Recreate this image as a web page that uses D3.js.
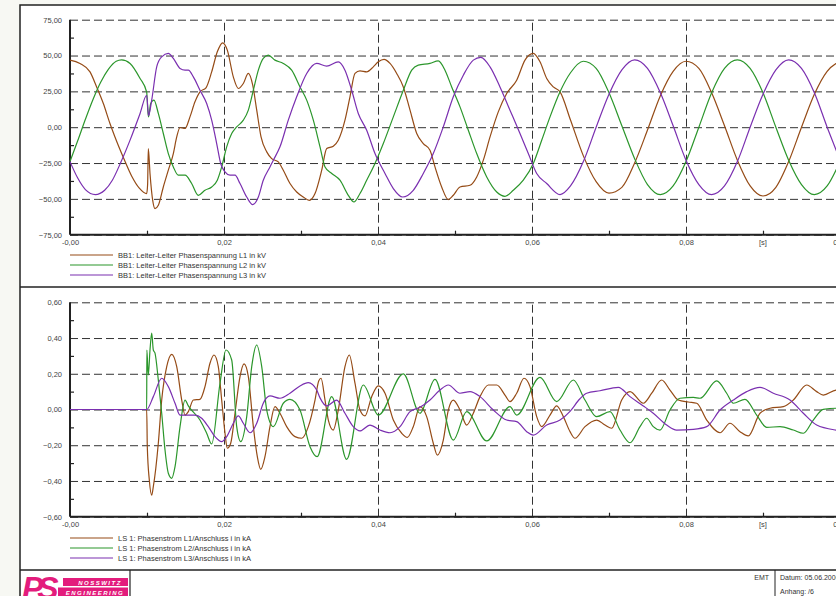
<!DOCTYPE html>
<html>
<head>
<meta charset="utf-8">
<style>
  body { margin: 0; background: #f7f8f3; }
  svg { display: block; font-family: "Liberation Sans", Arial, sans-serif; }
  .tick text { fill: #444; font-size: 7.5px; }
</style>
</head>
<body>
<svg id="chart" width="836" height="596"></svg>
<script src="https://d3js.org/d3.v7.min.js"></script>
<script>
// time in ms, value in kV
const voltL1 = [[0,46.8],[1.3,44.5],[2.6,38.6],[3.46,28.1],[4.33,16.5],[5.19,2.6],[5.84,-6.8],[7,-22],[8,-34],[9,-42.5],[9.96,-46.3],
  [10.08,-40],[10.17,-15],[10.4,-33],[10.74,-51],[11.04,-56.8],[11.47,-54.5],[12.12,-41.7],[12.77,-30],[13.42,-18.4],[13.86,-6.8],[14.29,-0.2],[14.94,-0.9],
  [15.58,7.2],[16.23,17.7],[16.88,24.7],[17.66,27.5],[18.40,38.6],[19.13,52.6],[19.83,58.9],[20.43,53.8],[21.21,35.1],[21.86,27],[22.51,30.5],[23.16,37.5],
  [23.73,29.3],[24.25,11.9],[24.81,-6.8],[25.55,-17.2],[26.19,-21.9],[27.05,-24.2],[27.70,-30],[28.57,-39.3],[29.44,-45.2],[30.30,-48.7],[31.08,-51],
  [31.82,-46.3],[32.69,-30],[33.34,-14.9],[34.19,-13.3],[34.84,-9.1],[35.71,4.9],[36.36,21.2],[37.01,37.5],[37.66,39.3],[38.53,38.6],[39.39,42.1],
  [40.04,45.6],[40.78,47.3],[41.56,44.5],[42.43,37.5],[43.29,28.1],[44.16,11.9],[45.03,-4.4],[45.88,-11.4],[46.75,-16.1],[47.40,-27.7],[48.27,-41.7],
  [49.13,-50.5],[49.78,-47.5],[50.65,-41.7],[51.95,-40.5],[52.82,-34.7],[53.68,-23],[54.55,-6.8],[55.62,10.7],[56.71,23.5],[58.01,32.8],[59.09,46.8],
  [60.17,51.5],[61.04,45.6],[61.91,34],[62.77,28.1],[63.64,24.7],[65,5],[66.67,-20],[68.33,-38],[70,-46],[71.67,-42],[73.33,-25],[75,-2],[76.67,22],
  [78.33,39],[80,46],[81.67,41],[83.33,24],[85,1],[86.67,-23],[88.33,-41],[90,-48],[91.67,-42],[93.33,-24],[95,0],[96.67,23],[98.33,39],[100,46]];
const voltL2 = [[0,-24],[1,-9.5],[2,5.5],[3,19.5],[4,31.5],[5,40.5],[6,46],[6.7,47],[7.8,44.5],[9.1,34],[9.96,24.5],
  [10.1,12],[10.2,7.2],[10.48,16.5],[10.9,18.9],[11.47,9.6],[12.12,-4.4],[12.77,-18.4],[13.42,-27.7],[14.06,-33.5],[14.94,-33.5],[15.80,-39.3],
  [16.66,-47.5],[17.53,-44],[18.40,-41.7],[19.13,-37],[19.70,-27.7],[20.35,-13.7],[21.00,-4.4],[21.65,0.2],[22.51,4.9],[23.16,11.9],[23.81,25.8],
  [24.46,39.8],[25.10,48],[25.75,50.3],[26.62,46.8],[27.70,44.5],[28.79,39.8],[29.87,28.1],[30.74,18.9],[31.60,4.9],[32.47,-13.7],[33.12,-27.7],
  [33.99,-32.3],[35.06,-37],[36.14,-47.5],[36.88,-52.2],[37.66,-46.3],[38.53,-37],[39.61,-25.3],[40.69,-11.4],[41.99,7.2],[43.29,25.8],[44.38,39.8],
  [45.23,43.3],[46.75,44.5],[47.83,46.3],[48.70,39.8],[49.57,28.1],[50.65,14.2],[51.73,-2.1],[52.82,-18.4],[54.12,-34.7],[55.42,-45.2],[56.49,-48.2],
  [57.57,-44],[58.87,-37],[60.17,-25.3],[61.26,-9.1],[62.34,7.2],[63.64,24.7],[65,38],[66.67,46],[68.33,41],[70,24],[71.67,1],[73.33,-22],[75,-40],
  [76.67,-47],[78.33,-41],[80,-24],[81.67,0],[83.33,24],[85,41],[86.67,47],[88.33,41],[90,24],[91.67,0],[93.33,-23],[95,-40],[96.67,-47],[98.33,-41],[100,-24]];
const voltL3 = [[0,-24],[1,-35.5],[2,-43.5],[3.3,-47],[4.5,-44],[5.5,-37],[6.6,-24.5],[7.8,-9],[9.1,9.6],[9.96,22.3],
  [10.1,14],[10.2,8],[10.61,18.9],[11.26,42.1],[11.91,49.1],[12.77,51.5],[13.42,48],[14.29,41],[14.94,39.8],[15.37,39.8],[16.02,35.1],[16.88,25.8],
  [17.75,16.5],[18.40,4.9],[19.05,-11.4],[19.57,-25.3],[20.13,-31.2],[20.78,-33.5],[21.43,-33.5],[22.08,-39.3],[22.95,-48.7],[23.73,-54],[24.46,-48.7],
  [25.10,-37],[25.97,-27.7],[26.41,-23],[27.27,-13.7],[28.35,4.9],[29.44,21.2],[30.74,37.5],[32.04,44.5],[33.34,42.6],[34.84,45.6],[35.71,39.8],
  [36.58,25.8],[37.44,9.6],[38.53,-2.1],[39.61,-18.4],[40.91,-32.3],[41.99,-42.8],[43.21,-48.7],[44.58,-44],[45.88,-32.3],[47.18,-18.4],[48.48,0.2],
  [49.78,21.2],[51.08,36.3],[52.38,46.8],[53.34,48.7],[54.55,42.1],[55.84,28.1],[57.14,11.9],[58.44,-4.4],[59.52,-18.4],[60.61,-32.3],[61.91,-39.3],
  [63.64,-47],[65,-41],[66.67,-24],[68.33,0],[70,23],[71.67,40],[73.33,47],[75,41],[76.67,24],[78.33,1],[80,-23],[81.67,-40],[83.33,-47],[85,-41],
  [86.67,-24],[88.33,0],[90,23],[91.67,40],[93.33,47],[95,41],[96.67,24],[98.33,0],[100,-23]];

// time in ms, value in kA
const currL1 = [[0,0],[9.96,0],[10.04,-0.21],[10.30,-0.395],[10.61,-0.479],[10.82,-0.432],[11.47,-0.189],[11.91,0.053],[12.56,0.24],[13.21,0.309],
  [13.86,0.24],[14.51,0.053],[14.94,-0.031],[15.37,-0.012],[16.02,0.053],[16.88,0.057],[17.53,0.128],[18.18,0.259],[18.70,0.305],[19.26,0.24],
  [19.70,0.053],[20.13,-0.133],[20.43,-0.217],[20.87,-0.189],[21.43,-0.021],[22.08,0.184],[22.60,0.255],[23.16,0.184],[23.81,-0.096],[24.33,-0.264],
  [24.77,-0.335],[25.32,-0.264],[25.97,-0.096],[26.62,0.016],[27.27,-0.021],[28.14,-0.096],[29.22,-0.152],[30.09,-0.161],[30.95,-0.096],[31.82,0.053],
  [32.3,0.16],[32.6,0.175],[33.12,0.053],[33.55,-0.059],[34.19,-0.115],[34.84,-0.003],[35.71,0.24],[36.27,0.305],[37.01,0.147],[37.66,-0.003],
  [38.31,-0.036],[39.18,0.072],[40.04,0.132],[40.91,0.091],[41.99,-0.059],[43.08,-0.133],[43.81,-0.156],[44.58,-0.096],[45.45,0.016],[46.32,-0.04],
  [47.18,-0.189],[47.70,-0.255],[48.48,-0.171],[49.13,-0.003],[49.78,0.053],[50.65,-0.003],[51.52,-0.087],[52.38,-0.021],[53.25,0.072],[54.33,0.137],
  [55.42,0.137],[56.49,0.081],[57.14,0.044],[58.01,0.091],[58.96,0.175],[59.74,0.128],[60.61,-0.04],[61.26,-0.096],[62.34,-0.031],[63.21,0.02],
  [64.07,-0.04],[64.94,-0.124],[65.58,-0.161],[66.88,-0.096],[68.40,-0.059],[69.48,-0.087],[70.35,-0.105],[71.65,0.053],[72.73,0.1],[74.46,0.035],
  [75.55,0.091],[76.84,0.165],[77.92,0.109],[79.0,0.053],[80.30,0.042],[81.39,0.035],[82.69,-0.059],[84.42,-0.13],[85.71,-0.077],[87.01,-0.124],
  [88.09,-0.148],[89.61,-0.021],[90.91,0.007],[92.64,0.016],[93.94,0.053],[95.68,0.137],[96.97,0.1],[97.83,0.081],[99.48,0.109],[100,0.11]];
const currL2 = [[0,0],[9.96,0],[9.98,0.333],[10.17,0.193],[10.39,0.333],[10.61,0.427],[10.82,0.333],[11.04,0.315],[11.47,0.165],[11.91,-0.021],
  [12.34,-0.227],[12.77,-0.357],[13.21,-0.385],[13.64,-0.32],[14.29,-0.096],[14.94,0.053],[15.37,0.02],[16.88,-0.059],[17.75,-0.133],[18.40,-0.193],
  [19.48,0.147],[20.26,0.333],[21.0,0.277],[21.65,-0.096],[22.17,-0.18],[22.95,-0.04],[23.60,0.24],[24.25,0.361],[24.90,0.24],[25.55,-0.003],
  [26.41,-0.096],[27.70,0.035],[28.57,0.057],[29.87,-0.003],[31.17,-0.208],[32.1,-0.264],[33.99,0.072],[35.93,-0.279],[38.09,0.137],[40.04,-0.031],
  [43.29,0.199],[45.45,-0.021],[47.40,0.169],[49.78,-0.171],[51.52,-0.012],[54.12,-0.176],[57.14,0.016],[58.01,-0.031],[61.04,0.18],[63.21,0.044],
  [65.37,0.165],[66.88,0.053],[68.40,-0.04],[70.13,-0.012],[71.43,-0.115],[72.73,-0.186],[74.03,-0.096],[74.89,-0.049],[75.75,-0.096],[76.62,-0.115],
  [77.92,-0.003],[79.22,0.063],[80.95,0.068],[81.82,0.063],[83.99,0.16],[85.28,0.091],[86.15,0.035],[87.66,0.057],[89.18,-0.031],[90.48,-0.1],
  [92.21,-0.096],[93.94,-0.115],[95.24,-0.133],[96.53,-0.059],[97.83,0.001],[99.48,0.007],[100,0.007]];
const currL3 = [[0,0],[9.96,0],[10.82,0.072],[11.91,0.175],[12.77,0.128],[13.64,0.035],[14.29,-0.031],[15.15,-0.031],[16.23,-0.031],[17.10,-0.049],
  [17.96,-0.096],[18.83,-0.152],[19.70,-0.18],[20.35,-0.152],[21.21,-0.077],[21.86,-0.036],[22.51,-0.077],[23.38,-0.13],[24.25,-0.077],[25.10,0.035],
  [25.97,0.076],[27.27,0.063],[28.57,0.091],[29.87,0.132],[30.95,0.15],[32.04,0.109],[32.47,0.065],[33.34,0.02],[34.63,0.053],[35.71,-0.021],
  [36.79,-0.096],[37.66,-0.12],[38.96,-0.087],[40.26,-0.115],[41.56,-0.13],[42.86,-0.096],[44.16,-0.012],[45.45,0.012],[46.75,0.053],[48.05,0.109],
  [49.13,0.137],[50.65,0.091],[51.95,0.1],[53.25,0.072],[54.98,-0.003],[56.71,-0.059],[58.01,-0.068],[59.31,-0.124],[60.17,-0.143],[61.91,-0.087],
  [63.64,-0.059],[64.94,-0.01],[66.23,0.06],[67.10,0.091],[68.83,0.105],[71.21,0.124],[72.73,0.072],[74.46,0.02],[75.75,-0.021],[77.49,-0.087],
  [78.79,-0.115],[80.95,-0.111],[82.69,-0.096],[84.42,-0.003],[86.15,0.053],[87.88,0.1],[89.61,0.124],[91.34,0.091],[93.51,0.053],[95.24,-0.021],
  [96.97,-0.087],[99.48,-0.115],[100,-0.118]];

const xTicks = [0, 0.02, 0.04, 0.06, 0.08, 0.10];
const xTickLabels = ["-0,00", "0,02", "0,04", "0,06", "0,08", "0,10"];
const xMinorTicks = [0.01, 0.03, 0.05, 0.07, 0.09];
const voltTicks = [-75, -50, -25, 0, 25, 50, 75];
const voltMinorTicks = [-62.5, -37.5, -12.5, 12.5, 37.5, 62.5];
const currTicks = [-0.6, -0.4, -0.2, 0, 0.2, 0.4, 0.6];
const currMinorTicks = [-0.5, -0.3, -0.1, 0.1, 0.3, 0.5];
const voltLabels = ["BB1: Leiter-Leiter Phasenspannung L1 in kV", "BB1: Leiter-Leiter Phasenspannung L2 in kV", "BB1: Leiter-Leiter Phasenspannung L3 in kV"];
const currLabels = ["LS 1: Phasenstrom L1/Anschluss i in kA", "LS 1: Phasenstrom L2/Anschluss i in kA", "LS 1: Phasenstrom L3/Anschluss i in kA"];
const colors = ["#954b16", "#2b962b", "#7a2fb0"];

const svg = d3.select("#chart");
const comma = (d) => d3.format(".2f")(d).replace(".", ",");

// frame
svg.append("rect").attr("x", 20).attr("y", 5).attr("width", 830).attr("height", 600)
  .attr("fill", "#fff").attr("stroke", "#222").attr("stroke-width", 1.5);
svg.append("line").attr("x1", 20).attr("x2", 836).attr("y1", 287).attr("y2", 287).attr("stroke", "#222").attr("stroke-width", 1.5);
svg.append("line").attr("x1", 20).attr("x2", 836).attr("y1", 570).attr("y2", 570).attr("stroke", "#222").attr("stroke-width", 1.5);

const x = d3.scaleLinear().domain([0, 0.1]).range([70, 840]);

function drawPanel(y, ticks, minorTicks, series, labels, legendTop) {
  const [bottom, top] = y.range();
  const g = svg.append("g");

  g.append("g").attr("transform", "translate(70,0)")
    .call(d3.axisLeft(y).tickValues(ticks).tickFormat(comma).tickSize(-770).tickPadding(8))
    .call((s) => s.select(".domain").remove())
    .call((s) => s.selectAll(".tick line").attr("stroke", "#333").attr("stroke-dasharray", "8,4"));
  g.append("g").attr("transform", "translate(70,0)")
    .call(d3.axisLeft(y).tickValues(minorTicks).tickFormat("").tickSize(-4))
    .call((s) => s.select(".domain").remove())
    .call((s) => s.selectAll(".tick line").attr("stroke", "#222").attr("stroke-width", 1.2));

  g.append("g").attr("transform", `translate(0,${bottom})`)
    .call(d3.axisBottom(x).tickValues(xTicks).tickFormat((d, i) => xTickLabels[i]).tickSize(-(bottom - top)).tickPadding(5))
    .call((s) => s.select(".domain").remove())
    .call((s) => s.selectAll(".tick line").attr("stroke", "#333").attr("stroke-dasharray", "8,4"));
  g.append("g").attr("transform", `translate(0,${bottom})`)
    .call(d3.axisBottom(x).tickValues(xMinorTicks).tickFormat("").tickSize(-4))
    .call((s) => s.select(".domain").remove())
    .call((s) => s.selectAll(".tick line").attr("stroke", "#222").attr("stroke-width", 1.2));
  g.append("text").attr("x", x(0.09)).attr("y", bottom + 10.5).attr("text-anchor", "middle")
    .attr("fill", "#444").attr("font-size", 7.5).text("[s]");

  g.append("line").attr("x1", 70).attr("x2", 70).attr("y1", top).attr("y2", bottom).attr("stroke", "#222").attr("stroke-width", 2);
  g.append("line").attr("x1", 70).attr("x2", 840).attr("y1", bottom).attr("y2", bottom).attr("stroke", "#222").attr("stroke-width", 2);

  const line = d3.line().x((d) => x(d[0] / 1000)).y((d) => y(d[1])).curve(d3.curveMonotoneX);
  series.forEach((s, i) => {
    g.append("path").datum(s).attr("d", line).attr("fill", "none")
      .attr("stroke", colors[i]).attr("stroke-width", 1.2);
  });

  labels.forEach((lab, i) => {
    const ly = legendTop + i * 10;
    g.append("line").attr("x1", 70).attr("x2", 113).attr("y1", ly).attr("y2", ly)
      .attr("stroke", colors[i]).attr("stroke-width", 1.2);
    g.append("text").attr("x", 118).attr("y", ly + 2.6).attr("fill", "#333")
      .attr("font-size", 7.5).text(lab);
  });
}

drawPanel(d3.scaleLinear().domain([-75, 75]).range([234.7, 19.7]), voltTicks, voltMinorTicks,
  [voltL1, voltL2, voltL3], voltLabels, 255);
drawPanel(d3.scaleLinear().domain([-0.6, 0.6]).range([516.7, 302.3]), currTicks, currMinorTicks,
  [currL1, currL2, currL3], currLabels, 538);

// footer
svg.append("line").attr("x1", 130).attr("x2", 130).attr("y1", 570).attr("y2", 596).attr("stroke", "#222").attr("stroke-width", 1.2);
svg.append("line").attr("x1", 775).attr("x2", 775).attr("y1", 570).attr("y2", 596).attr("stroke", "#222").attr("stroke-width", 1);
svg.append("text").attr("x", 769).attr("y", 580).attr("text-anchor", "end").attr("font-size", 7).attr("fill", "#333").text("EMT");
svg.append("text").attr("x", 780).attr("y", 580).attr("font-size", 7).attr("fill", "#333").text("Datum: 05.06.2006");
svg.append("text").attr("x", 780).attr("y", 594).attr("font-size", 7).attr("fill", "#333").text("Anhang:  /6");

const pink = "#e31c7c";
const logo = svg.append("g");
logo.append("text").attr("x", 22).attr("y", 599).attr("font-size", 32).attr("font-weight", "bold")
  .attr("font-style", "italic").attr("fill", pink).attr("letter-spacing", -6).text("PS");
logo.append("rect").attr("x", 63).attr("y", 578).attr("width", 65).attr("height", 8).attr("fill", pink);
logo.append("rect").attr("x", 58).attr("y", 587.5).attr("width", 70).attr("height", 9).attr("fill", pink);
logo.append("text").attr("x", 100).attr("y", 584.5).attr("text-anchor", "middle").attr("font-size", 6)
  .attr("font-weight", "bold").attr("font-style", "italic").attr("letter-spacing", 1.5).attr("fill", "#fff").text("NOSSWITZ");
logo.append("text").attr("x", 95).attr("y", 594.5).attr("text-anchor", "middle").attr("font-size", 6)
  .attr("font-weight", "bold").attr("font-style", "italic").attr("letter-spacing", 1.5).attr("fill", "#fff").text("ENGINEERING");
</script>
</body>
</html>
